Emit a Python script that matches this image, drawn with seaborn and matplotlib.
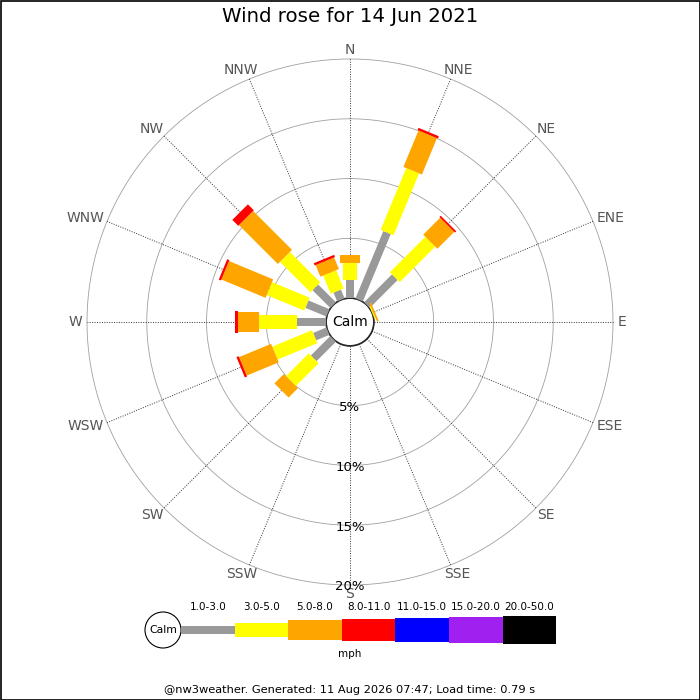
import numpy as np
import matplotlib
matplotlib.use('Agg')
import matplotlib.pyplot as plt
import matplotlib.transforms as mtransforms
import seaborn as sns

# Compass sectors, clockwise from north
directions = ['N', 'NNE', 'NE', 'ENE', 'E', 'ESE', 'SE', 'SSE',
              'S', 'SSW', 'SW', 'WSW', 'W', 'WNW', 'NW', 'NNW']

# Share of observations (%) per speed class and direction
pct_1_3 = [1.5, 6.1, 3.3, 0.0, 0, 0, 0, 0, 0, 0, 2.3, 1.2, 2.4, 1.9, 2.1, 0.8]
pct_3_5 = [1.4, 5.6, 4.2, 0.1, 0, 0, 0, 0, 0, 0, 2.7, 3.6, 3.2, 3.4, 3.6, 1.65]
pct_5_8 = [0.7, 3.3, 2.0, 0.15, 0, 0, 0, 0, 0, 0, 1.1, 2.9, 1.8, 4.0, 4.6, 1.05]
pct_8_11 = [0.0, 0.2, 0.15, 0.0, 0, 0, 0, 0, 0, 0, 0.0, 0.2, 0.2, 0.2, 0.7, 0.2]
pct_11_15 = [0] * 16
pct_15_20 = [0] * 16
pct_20_50 = [0] * 16

speed_classes = ['1.0-3.0', '3.0-5.0', '5.0-8.0', '8.0-11.0',
                 '11.0-15.0', '15.0-20.0', '20.0-50.0']
class_colors = ['#999999', '#ffff00', '#ffa500', '#ff0000',
                '#0000ff', '#a020f0', '#000000']
class_widths = [8, 14, 20, 22, 24, 26, 28]  # bar thickness in px

ring_levels = [5, 10, 15, 20]

sns.set_theme(style='white')
plt.rcParams['font.family'] = ['DejaVu Sans']
plt.rcParams['text.color'] = 'black'

fig = plt.figure(figsize=(7, 7), dpi=100)
px = 72 / fig.dpi  # px -> points

# polar axes; the hole in the middle is the calm circle
ax = fig.add_axes([87 / 700, 115 / 700, 526 / 700, 526 / 700], projection='polar')
ax.set_theta_zero_location('N')
ax.set_theta_direction(-1)
ax.set_ylim(0, 20)
ax.set_rorigin(-2.0)
ax.grid(False)
ax.set_xticks([])
ax.set_yticks([])
for sp in ax.spines.values():
    sp.set_visible(False)
ax.patch.set_alpha(0)

theta = np.deg2rad(np.arange(16) * 22.5)
circ = np.linspace(0, 2 * np.pi, 361)

# rings and spokes
for lvl in ring_levels:
    ax.plot(circ, np.full_like(circ, lvl), color='#a0a0a0', lw=0.6, zorder=1, clip_on=False)
    ax.text(np.pi, lvl + 0.15, f'{lvl}%', ha='center', va='center',
            fontsize=9.5, color='black', zorder=5)
for t in theta:
    ax.plot([t, t], [0, 20], color='#333333', lw=0.7, ls=(0, (1, 1.5)), zorder=1, clip_on=False)
ax.plot(circ, np.zeros_like(circ), color='#a0a0a0', lw=0.6, zorder=2, clip_on=False)

# stacked bars
stack = [pct_1_3, pct_3_5, pct_5_8, pct_8_11, pct_11_15, pct_15_20, pct_20_50]
base = np.zeros(16)
for vals, col, w in zip(stack, class_colors, class_widths):
    vals = np.asarray(vals, dtype=float)
    for t, b, v in zip(theta, base, vals):
        if v > 0:
            ax.plot([t, t], [b, b + v], color=col, lw=w * px,
                    solid_capstyle='butt', zorder=3, clip_on=False)
    base = base + vals

ax.text(0, -2.0, 'Calm', ha='center', va='center', fontsize=10, color='black')

# compass labels: anchored just outside the 20% ring, pushed outward by their size
label_r = 20.4
dir_texts = []
for t, name in zip(theta, directions):
    dir_texts.append(ax.text(t, label_r, name, ha='center', va='center',
                             fontsize=10, color='#555555', clip_on=False))
fig.canvas.draw()
renderer = fig.canvas.get_renderer()
for t, txt in zip(theta, dir_texts):
    bb = txt.get_window_extent(renderer)
    dx = np.sin(t) * bb.width / 2 * px
    dy = np.cos(t) * bb.height * 0.33 * px
    txt.set_transform(mtransforms.offset_copy(ax.transData, fig=fig, x=dx, y=dy, units='points'))

# overlay in pixel coordinates for title, legend and footer
ov = fig.add_axes([0, 0, 1, 1])
ov.set_xlim(0, 700)
ov.set_ylim(700, 0)
ov.axis('off')
ov.patch.set_alpha(0)

ov.text(350, 17, 'Wind rose for 14 Jun 2021', ha='center', va='center', fontsize=14.2)

# legend strip
leg_x0, leg_w, leg_y = 181, 53.6, 630
ov.add_patch(plt.Circle((163, leg_y), 18, facecolor='white', edgecolor='black', lw=0.8))
ov.text(163, leg_y, 'Calm', ha='center', va='center', fontsize=7.8)
for i, (lab, col, w) in enumerate(zip(speed_classes, class_colors, class_widths)):
    x0 = leg_x0 + i * leg_w
    ov.plot([x0, x0 + leg_w], [leg_y, leg_y], color=col, lw=w * px, solid_capstyle='butt')
    ov.text(x0 + leg_w / 2, 607, lab, ha='center', va='center', fontsize=7.5)
ov.text(350, 654, 'mph', ha='center', va='center', fontsize=7.5)

ov.text(350, 690, '@nw3weather. Generated: 11 Aug 2026 07:47; Load time: 0.79 s',
        ha='center', va='center', fontsize=8.2)

# figure border
ov.add_patch(plt.Rectangle((0.5, 0.5), 699, 699, fill=False, edgecolor='black', lw=1.2))

fig.savefig('out.png', dpi=100)
